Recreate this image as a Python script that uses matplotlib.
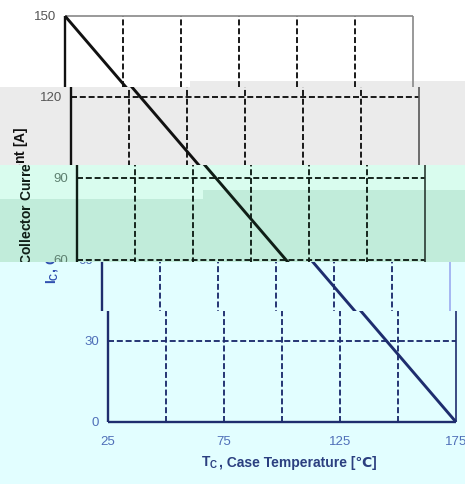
import matplotlib
matplotlib.use("Agg")
import matplotlib.pyplot as plt
from matplotlib.patches import Rectangle
from matplotlib.offsetbox import TextArea, HPacker, AnnotationBbox

plt.rcParams['font.family'] = ['Liberation Sans', 'DejaVu Sans']

# derating curve: collector current vs case temperature
temp = [25, 175]
current = [150, 0]
grid_t = [50, 75, 100, 125, 150]
grid_i = [30, 60, 90, 120]
xtick_vals = [25, 75, 125, 175]
ytick_vals = [0, 30, 60, 90, 120, 150]

W, H = 465, 485
kx = 348 / 150.0   # px per degree
ky = 406 / 150.0   # px per amp
x0_px, y150_px = 65, 17

# horizontal strips of the (glitched) scan: top, bottom, shift, line, spine, text colour
bands = [
    (0, 88, 0, '#111111', '#888888', '#555555'),
    (88, 166, 6, '#111111', '#555555', '#555555'),
    (166, 263, 12, '#0f1e16', '#2a3a32', '#5e8070'),
    (263, 312, 37, '#1e2d6e', '#9aaaf0', '#4f6fb8'),
    (312, 485, 43, '#1e2d6e', '#1e2d6e', '#4f6fb8'),
]

fig = plt.figure(figsize=(W / 100, H / 100), dpi=100)
fig.patch.set_facecolor('white')

# background strips (x, y_top, width, height, colour) in pixels
bg = [
    (190, 82, 275, 6, '#ebebeb'),
    (0, 88, 465, 78, '#ebebeb'),
    (0, 166, 465, 97, '#d9fcee'),
    (0, 200, 203, 63, '#c1ecda'),
    (203, 191, 262, 72, '#c1ecda'),
    (0, 263, 465, 222, '#e2feff'),
]
for x, y, w, h, c in bg:
    fig.patches.append(Rectangle((x / W, 1 - (y + h) / H), w / W, h / H,
                                 transform=fig.transFigure, color=c,
                                 zorder=-5, lw=0))

def v_of(py):
    return 150 - (py - y150_px) / ky

dash = (0, (3.2, 1.5))
for top, bot, dx, lc, sc, tc in bands:
    ax = fig.add_axes([0, 1 - bot / H, 1, (bot - top) / H])
    ax.axis('off')
    xl = 25 - (x0_px + dx) / kx
    ax.set_xlim(xl, xl + W / kx)
    ax.set_ylim(v_of(bot), v_of(top))

    ax.vlines(grid_t, 0, 150, colors=lc, lw=1.35, linestyles=dash)
    ax.hlines(grid_i, 25, 175, colors=lc, lw=1.35, linestyles=dash)
    ax.vlines(25, 0, 150, colors=lc, lw=1.7)
    ax.vlines(175, 0, 150, colors=sc, lw=1.2)
    ax.hlines(150, 25, 175, colors=sc, lw=1.2)
    ax.hlines(0, 25, 175, colors=lc, lw=1.7)
    ax.plot(temp, current, color=lc, lw=2.1, solid_capstyle='butt')

    for v in ytick_vals:
        ax.text(25 - 9 / kx, v, str(v), ha='right', va='center',
                fontsize=9.5, color=tc, clip_on=True)
    for t in xtick_vals:
        ax.text(t, -19 / ky, str(t), ha='center', va='center',
                fontsize=9.5, color=tc, clip_on=True)
    ax.text(25 - 50 / kx, v_of(205), r'I$_\mathregular{C}$, Collector Current [A]',
            ha='center', va='center', rotation=90, fontsize=10,
            fontweight='bold', color=lc if dx < 30 else '#3050b0', clip_on=True)

# x label sits entirely in the last strip
props = dict(fontsize=10, fontweight='bold', color='#2b3f80')
xlab = HPacker(children=[TextArea(r'T$_\mathregular{C}$', textprops=props),
                         TextArea(', Case Temperature [℃]', textprops=props)],
               align='baseline', pad=0, sep=0)
ab = AnnotationBbox(xlab, (103, -40 / ky), xycoords='data', frameon=False,
                    box_alignment=(0.5, 0.5), pad=0)
ax.add_artist(ab)

fig.savefig('out.png', dpi=100)
